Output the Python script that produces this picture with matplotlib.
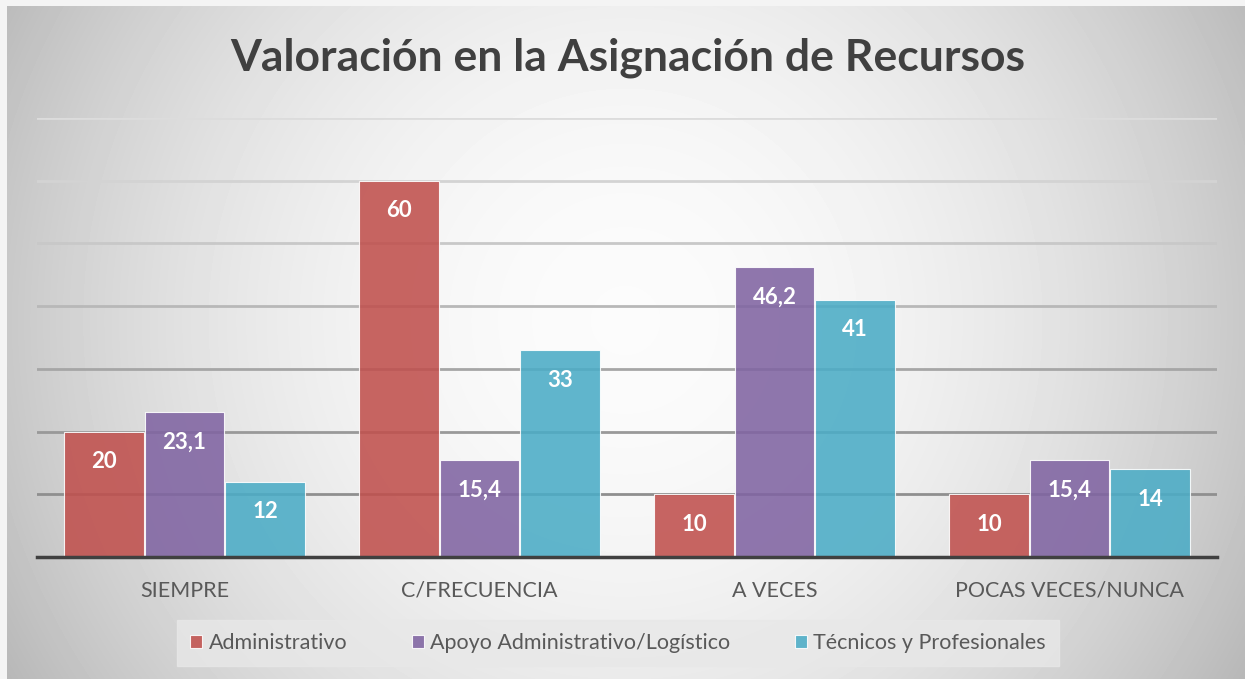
import matplotlib
matplotlib.use("Agg")
import matplotlib.pyplot as plt
import numpy as np

# --- data ---
categories = ["SIEMPRE", "C/FRECUENCIA", "A VECES", "POCAS VECES/NUNCA"]
series_names = ["Administrativo", "Apoyo Administrativo/Logístico", "Técnicos y Profesionales"]
administrativo = [20, 60, 10, 10]
apoyo = [23.1, 15.4, 46.2, 15.4]
tecnicos = [12, 33, 41, 14]
colors = ["#c0504d", "#8064a2", "#4bacc6"]

W, H = 1245, 679
fig = plt.figure(figsize=(W / 100, H / 100), dpi=100)
fig.patch.set_facecolor("#f4f4f4")
plt.rcParams["font.family"] = ["Lato", "DejaVu Sans"]

# background radial gradient
bg = fig.add_axes([0, 0, 1, 1], zorder=0)
xs = np.arange(7, W)
ys = np.arange(6, H)
X, Y = np.meshgrid(xs, ys)
r2 = ((X - 625) / 620.0) ** 2 + ((Y - 320) / 620.0) ** 2
gray = np.clip(0.985 - 0.2 * r2, 0, 1)
bg.imshow(gray, cmap="gray", vmin=0, vmax=1, extent=(7, W, H, 6),
          aspect="auto", interpolation="bilinear")
bg.set_xlim(0, W)
bg.set_ylim(H, 0)
bg.axis("off")

# main axes
ax = fig.add_axes([37 / W, (H - 557) / H, 1180 / W, 439 / H], zorder=1)
ax.patch.set_alpha(0)
ax.set_xlim(-0.5, 3.5)
ax.set_ylim(0, 70)

grid_colors = ["#8f8f8f", "#999999", "#a6a6a6", "#b8b8b8", "#c8c8c8", "#d3d3d3", "#dcdcdc"]
for val, c in zip(range(10, 80, 10), grid_colors):
    ax.axhline(val, color=c, lw=2, zorder=1)

x = np.arange(len(categories))
width = 0.27
offs = [-0.273, 0, 0.273]
for vals, off, col, name in zip([administrativo, apoyo, tecnicos], offs, colors, series_names):
    bars = ax.bar(x + off, vals, width, color=col, alpha=0.88, edgecolor="white",
                  linewidth=0.8, zorder=2, label=name)
    for b, v in zip(bars, vals):
        txt = f"{v:g}".replace(".", ",")
        ax.annotate(txt, (b.get_x() + b.get_width() / 2, v), xytext=(0, -30),
                    textcoords="offset pixels",
                    ha="center", va="center", color="white", fontsize=16,
                    fontweight="bold", zorder=3)

ax.axhline(0, color="#404040", lw=2.5, zorder=4, clip_on=False)
for s in ax.spines.values():
    s.set_visible(False)
ax.set_yticks([])
ax.set_xticks(x)
ax.set_xticklabels(categories, fontsize=15.5, color="#595959")
ax.tick_params(axis="x", length=0, pad=17)

fig.text(628 / W, 1 - 58 / H, "Valoración en la Asignación de Recursos",
         ha="center", va="center", fontsize=32, fontweight="bold", color="#404040")

leg = fig.legend(loc="center", bbox_to_anchor=(618 / W, 1 - 643 / H), ncol=3,
                 frameon=True, fontsize=15.5, handlelength=0.55, handleheight=0.55,
                 handletextpad=0.3, columnspacing=3.0, borderpad=0.6)
leg.get_frame().set_facecolor("#e8e8e8")
leg.get_frame().set_edgecolor("#e8e8e8")
leg.get_frame().set_boxstyle("square", pad=0.0)
for t in leg.get_texts():
    t.set_color("#595959")

fig.savefig("out.png", dpi=100)
